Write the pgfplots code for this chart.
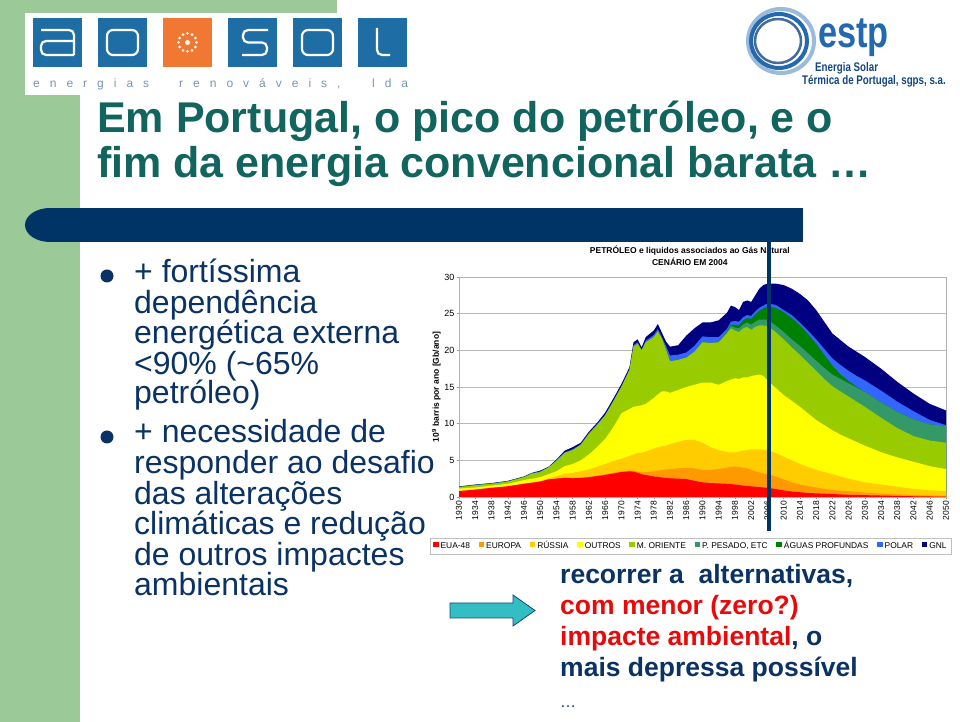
\documentclass[border=0pt]{standalone}
\usepackage{fontspec}
\setmainfont{Liberation Sans}
\usepackage{graphicx}
\usepackage{pgfplots}
\pgfplotsset{compat=1.18}
\usepackage{pgfplotstable}

\definecolor{slidegreen}{RGB}{155,201,152}
\definecolor{barblue}{RGB}{0,51,102}
\definecolor{titleteal}{RGB}{18,100,94}
\definecolor{navytext}{RGB}{10,50,100}
\definecolor{logoblue}{RGB}{30,110,165}
\definecolor{logoorange}{RGB}{240,120,50}
\definecolor{taggrey}{RGB}{120,150,180}
\definecolor{estpblue}{RGB}{35,105,175}
\definecolor{estpdark}{RGB}{20,70,130}
\definecolor{arrowcyan}{RGB}{50,190,195}
\definecolor{redtext}{RGB}{232,10,10}
% series colours
\definecolor{eua}{RGB}{255,0,0}
\definecolor{eur}{RGB}{255,153,0}
\definecolor{rus}{RGB}{255,204,0}
\definecolor{out}{RGB}{255,255,0}
\definecolor{mor}{RGB}{153,204,0}
\definecolor{pes}{RGB}{51,153,102}
\definecolor{agu}{RGB}{0,128,0}
\definecolor{pol}{RGB}{51,102,255}
\definecolor{gnl}{RGB}{0,0,128}

% cumulative tops of the stacked areas (Gb/ano)
\pgfplotstableread{
yr   eua  eur  rus  out   mor   pes   agu   pol   gnl
1930 0.80 0.80 0.80 1.15  1.35  1.35  1.35  1.40  1.45
1934 1.00 1.00 1.00 1.30  1.60  1.60  1.60  1.65  1.70
1938 1.25 1.25 1.25 1.55  1.80  1.80  1.80  1.85  1.90
1942 1.45 1.45 1.45 1.80  2.10  2.10  2.10  2.15  2.20
1946 1.80 1.80 1.80 2.30  2.70  2.70  2.70  2.75  2.80
1948 1.95 1.95 2.00 2.50  3.20  3.20  3.20  3.25  3.30
1950 2.10 2.10 2.20 2.70  3.40  3.40  3.40  3.50  3.60
1952 2.40 2.40 2.55 3.10  4.00  4.00  4.00  4.05  4.10
1954 2.50 2.55 2.85 3.50  4.90  4.90  4.90  5.00  5.10
1956 2.60 2.65 3.15 4.20  6.00  6.00  6.00  6.10  6.30
1958 2.55 2.60 3.30 4.50  6.40  6.40  6.40  6.50  6.80
1960 2.60 2.65 3.50 5.00  7.10  7.10  7.10  7.20  7.40
1962 2.70 2.75 3.75 5.80  8.60  8.60  8.60  8.70  8.90
1964 2.85 2.90 4.10 6.80  9.80  9.80  9.80  9.90  10.10
1966 3.00 3.10 4.50 7.90  11.10 11.10 11.10 11.20 11.50
1968 3.20 3.30 4.90 9.50  13.00 13.00 13.00 13.10 13.40
1970 3.40 3.50 5.20 11.40 15.00 15.00 15.00 15.10 15.40
1972 3.50 3.60 5.60 12.00 17.30 17.30 17.30 17.40 17.70
1973 3.45 3.60 5.80 12.30 20.50 20.50 20.50 20.70 21.10
1974 3.30 3.45 6.00 12.40 20.90 20.90 20.90 21.10 21.50
1975 3.10 3.35 6.00 12.50 20.00 20.00 20.00 20.10 20.40
1976 3.00 3.40 6.20 12.70 21.10 21.10 21.10 21.30 21.80
1978 2.80 3.50 6.60 13.50 21.80 21.80 21.80 22.10 22.70
1979 2.75 3.60 6.80 14.00 22.60 22.60 22.60 22.90 23.60
1980 2.65 3.70 6.90 14.40 21.60 21.60 21.60 21.80 22.40
1981 2.60 3.75 7.00 14.40 20.10 20.10 20.10 20.60 21.20
1982 2.55 3.80 7.20 14.20 18.50 18.50 18.50 19.30 20.50
1984 2.50 3.90 7.50 14.60 18.70 18.70 18.70 19.40 20.70
1986 2.45 4.00 7.80 15.00 19.00 19.00 19.00 19.70 22.00
1988 2.20 3.90 7.80 15.30 19.80 19.80 19.80 20.60 23.00
1990 2.00 3.70 7.40 15.60 21.10 21.10 21.10 21.90 23.80
1992 1.90 3.70 6.80 15.60 21.00 21.00 21.00 21.80 23.80
1994 1.85 3.80 6.40 15.30 21.10 21.10 21.10 21.80 24.10
1996 1.80 4.00 6.10 15.80 22.30 22.50 22.60 22.90 25.10
1997 1.75 4.10 6.10 16.00 23.00 23.30 23.50 23.90 26.10
1998 1.70 4.15 6.10 16.20 22.70 23.10 23.50 24.00 25.90
1999 1.65 4.10 6.20 16.10 22.50 23.00 23.40 23.90 25.50
2000 1.55 4.00 6.30 16.30 23.00 23.50 24.10 24.50 26.60
2001 1.50 3.90 6.40 16.30 23.20 23.80 24.40 24.80 26.80
2002 1.45 3.70 6.50 16.50 22.80 23.50 24.30 24.70 26.60
2003 1.40 3.50 6.50 16.60 23.20 23.90 24.90 25.30 27.50
2004 1.35 3.35 6.50 16.70 23.40 24.20 25.40 25.80 28.40
2005 1.30 3.20 6.45 16.50 23.40 24.20 25.70 26.10 28.90
2006 1.25 3.10 6.40 15.90 23.30 24.20 26.00 26.40 29.10
2008 1.10 2.80 6.00 14.90 22.50 23.40 25.80 26.20 29.10
2010 0.90 2.40 5.50 13.90 21.50 22.50 25.20 25.50 28.90
2012 0.75 2.00 5.00 13.10 20.40 21.50 24.40 24.80 28.40
2014 0.65 1.70 4.50 12.30 19.40 20.60 23.40 23.80 27.70
2016 0.55 1.50 4.10 11.40 18.30 19.60 22.20 22.70 26.80
2018 0.50 1.30 3.70 10.50 17.20 18.60 20.90 21.50 25.50
2020 0.45 1.10 3.40 9.80  16.10 17.60 19.40 20.20 23.90
2022 0.40 0.95 3.10 9.10  15.10 16.70 17.90 18.90 22.30
2024 0.35 0.85 2.80 8.50  14.40 16.10 16.70 18.00 21.40
2026 0.30 0.80 2.50 8.00  13.70 15.50 15.80 17.20 20.50
2028 0.28 0.70 2.25 7.50  13.00 14.90 15.00 16.50 19.80
2030 0.25 0.60 2.00 7.00  12.30 14.30 14.30 15.90 19.10
2034 0.20 0.45 1.70 6.10  10.80 12.90 12.90 14.50 17.50
2038 0.15 0.35 1.40 5.40  9.40  11.60 11.60 13.00 15.70
2042 0.10 0.27 1.10 4.80  8.30  10.60 10.60 11.70 14.10
2046 0.07 0.20 0.90 4.20  7.70  9.90  9.90  10.50 12.70
2050 0.05 0.15 0.80 3.80  7.40  9.70  9.70  9.80  11.80
}\oil

\begin{document}
\begin{tikzpicture}[x=1pt,y=1pt]
\useasboundingbox (0,0) rectangle (960,722);
\fill[white] (0,0) rectangle (960,722);

\begin{scope}[shift={(0,722)},yscale=-1]
% green frame of the slide
\fill[slidegreen] (0,0) rectangle (337,13);
\fill[slidegreen] (0,0) rectangle (25,96);
\fill[slidegreen] (0,95) rectangle (80,722);
\fill[white] (25,13) rectangle (440,95);

% aosol logo
\foreach \x in {33,98,228,293,358} \fill[logoblue] (\x,18) rectangle +(49,49);
\fill[logoorange] (163,18) rectangle +(49,49);
\begin{scope}[white,line width=2.2pt]
\draw[rounded corners=5pt] (41,30) -- (74,30) -- (74,55);
\draw[rounded corners=5pt] (74,41) -- (41,41) -- (41,55) -- (74,55);
\draw[rounded corners=6pt] (107,30) rectangle (138,55);
\draw[rounded corners=5pt] (268,30) -- (243,30) -- (243,42.5) -- (267,42.5) -- (267,55) -- (242,55);
\draw[rounded corners=6pt] (302,30) rectangle (333,55);
\draw[rounded corners=5pt] (377,28) -- (377,55) -- (390,55);
\end{scope}
\fill[white] (187.5,42.5) circle (2.5pt);
\foreach \a in {0,30,...,330} \fill[white,shift={(187.5,42.5)}] (\a:9) circle (1.5pt);
\node[anchor=base west,inner sep=0,text=taggrey,font=\fontsize{12}{12}\selectfont] at (33,88)
  {\makebox[375pt][s]{e n e r g i a s \ \ r e n o v á v e i s , \ \ l d a}};

% estp logo
\draw[estpblue!45,line width=4pt] (781,41) ellipse [x radius=33, y radius=32];
\draw[estpblue,line width=4pt] (779,41) ellipse [x radius=28, y radius=27];
\draw[estpdark!80,line width=2.5pt] (778,41) ellipse [x radius=23, y radius=22];
\node[anchor=base west,inner sep=0,text=estpblue,font=\fontsize{44}{44}\selectfont\bfseries] at (818,48)
  {\scalebox{0.78}[1]{estp}};
\node[anchor=base west,inner sep=0,text=estpdark,font=\fontsize{12.5}{13}\selectfont\bfseries] at (815,72)
  {\scalebox{0.78}[1]{Energia Solar}};
\node[anchor=base west,inner sep=0,text=estpdark,font=\fontsize{12.5}{13}\selectfont\bfseries] at (802,85)
  {\scalebox{0.78}[1]{Térmica de Portugal, sgps, s.a.}};

% title
\node[anchor=base west,inner sep=0,text=titleteal,font=\fontsize{43}{43}\selectfont\bfseries] at (97,133)
  {Em Portugal, o pico do petróleo, e o};
\node[anchor=base west,inner sep=0,text=titleteal,font=\fontsize{43}{43}\selectfont\bfseries] at (97,178)
  {fim da energia convencional barata …};

% dark band
\fill[barblue] (50,208) rectangle (803,242);
\fill[barblue] (50,225) ellipse [x radius=25, y radius=17];

% bullets
\fill[navytext] (107,276) circle (6.5pt);
\fill[navytext] (107,437) circle (6.5pt);
\begin{scope}[every node/.style={anchor=base west,inner sep=0,text=navytext,font=\fontsize{32}{32}\selectfont}]
\node at (134,283) {+ fortíssima};
\node at (134,313.5) {dependência};
\node at (134,344) {energética externa};
\node at (134,374.5) {<90\% (\textasciitilde65\%};
\node at (134,404) {petróleo)};
\node at (134,443) {+ necessidade de};
\node at (134,473.6) {responder ao desafio};
\node at (134,504.2) {das alterações};
\node at (134,534.8) {climáticas e redução};
\node at (134,565.4) {de outros impactes};
\node at (134,596) {ambientais};
\end{scope}

% arrow
\filldraw[fill=arrowcyan,draw=estpdark,line width=0.8pt]
  (450,603) -- (513,603) -- (513,595) -- (535,610.5) -- (513,626) -- (513,618) -- (450,618) -- cycle;

% conclusion text
\begin{scope}[every node/.style={anchor=base west,inner sep=0,text=navytext,font=\fontsize{26.5}{26.5}\selectfont\bfseries}]
\node at (560,584) {recorrer a\ \ alternativas,};
\node[text=redtext] at (560,615) {com menor (zero?)};
\node at (560,646) {\textcolor{redtext}{impacte ambiental}, o};
\node at (560,677) {mais depressa possível};
\node[font=\fontsize{16}{16}\selectfont] at (560,708) {…};
\end{scope}
\end{scope}

\begin{axis}[
  at={(459pt,225pt)}, anchor=south west,
  scale only axis, width=487pt, height=220pt,
  xmin=1930, xmax=2050, ymin=0, ymax=30,
  xtick={1930,1934,...,2050}, minor x tick num=3,
  ytick={0,5,...,30},
  ymajorgrids, major grid style={draw=gray!55, line width=0.6pt},
  axis line style={draw=gray!60, line width=0.6pt},
  tick align=outside, tick pos=left,
  major tick length=2.5pt, minor tick length=2.5pt,
  tick style={draw=gray!80, line width=0.4pt},
  /pgf/number format/1000 sep={},
  /pgf/number format/assume math mode=true,
  xticklabel style={rotate=90, anchor=east, inner sep=1.5pt, font=\fontsize{8.5}{9}\selectfont},
  yticklabel style={inner sep=2pt, font=\fontsize{9}{10}\selectfont},
  ylabel={10\textsuperscript{9} barris por ano [Gb/ano]},
  ylabel style={font=\fontsize{8.5}{9}\selectfont\bfseries, yshift=-2pt},
  title={PETRÓLEO e liquidos associados ao Gás Natural\\CENÁRIO EM 2004},
  title style={align=center, font=\fontsize{8.5}{11.5}\selectfont\bfseries, at={(0.474,1)}, anchor=south, yshift=2pt},
  legend columns=9,
  legend style={at={(0.476,-0.223)}, anchor=center, draw=gray!50, line width=0.5pt,
    font=\fontsize{8.4}{9}\selectfont, inner xsep=3pt, inner ysep=2.5pt,
    nodes={text height=6.4pt, text depth=0.6pt},
    /tikz/every even column/.append style={column sep=6.6pt}},
  legend image code/.code={\fill[#1,draw=none] (0pt,-1.2pt) rectangle (5.6pt,4.4pt);},
]
\addplot[fill=gnl, draw=none, forget plot] table[x=yr, y=gnl] {\oil} \closedcycle;
\addplot[fill=pol, draw=none, forget plot] table[x=yr, y=pol] {\oil} \closedcycle;
\addplot[fill=agu, draw=none, forget plot] table[x=yr, y=agu] {\oil} \closedcycle;
\addplot[fill=pes, draw=none, forget plot] table[x=yr, y=pes] {\oil} \closedcycle;
\addplot[fill=mor, draw=none, forget plot] table[x=yr, y=mor] {\oil} \closedcycle;
\addplot[fill=out, draw=none, forget plot] table[x=yr, y=out] {\oil} \closedcycle;
\addplot[fill=rus, draw=none, forget plot] table[x=yr, y=rus] {\oil} \closedcycle;
\addplot[fill=eur, draw=none, forget plot] table[x=yr, y=eur] {\oil} \closedcycle;
\addplot[fill=eua, draw=none, forget plot] table[x=yr, y=eua] {\oil} \closedcycle;
\addlegendimage{fill=eua}
\addlegendimage{fill=eur}
\addlegendimage{fill=rus}
\addlegendimage{fill=out}
\addlegendimage{fill=mor}
\addlegendimage{fill=pes}
\addlegendimage{fill=agu}
\addlegendimage{fill=pol}
\addlegendimage{fill=gnl}
\legend{EUA-48, EUROPA, RÚSSIA, OUTROS, M. ORIENTE, {P. PESADO, ETC}, ÁGUAS PROFUNDAS, POLAR, GNL}
\end{axis}

\begin{scope}[shift={(0,722)},yscale=-1]
\draw[barblue,line width=4.5pt] (769,240) -- (769,531);
\end{scope}
\end{tikzpicture}
\end{document}
